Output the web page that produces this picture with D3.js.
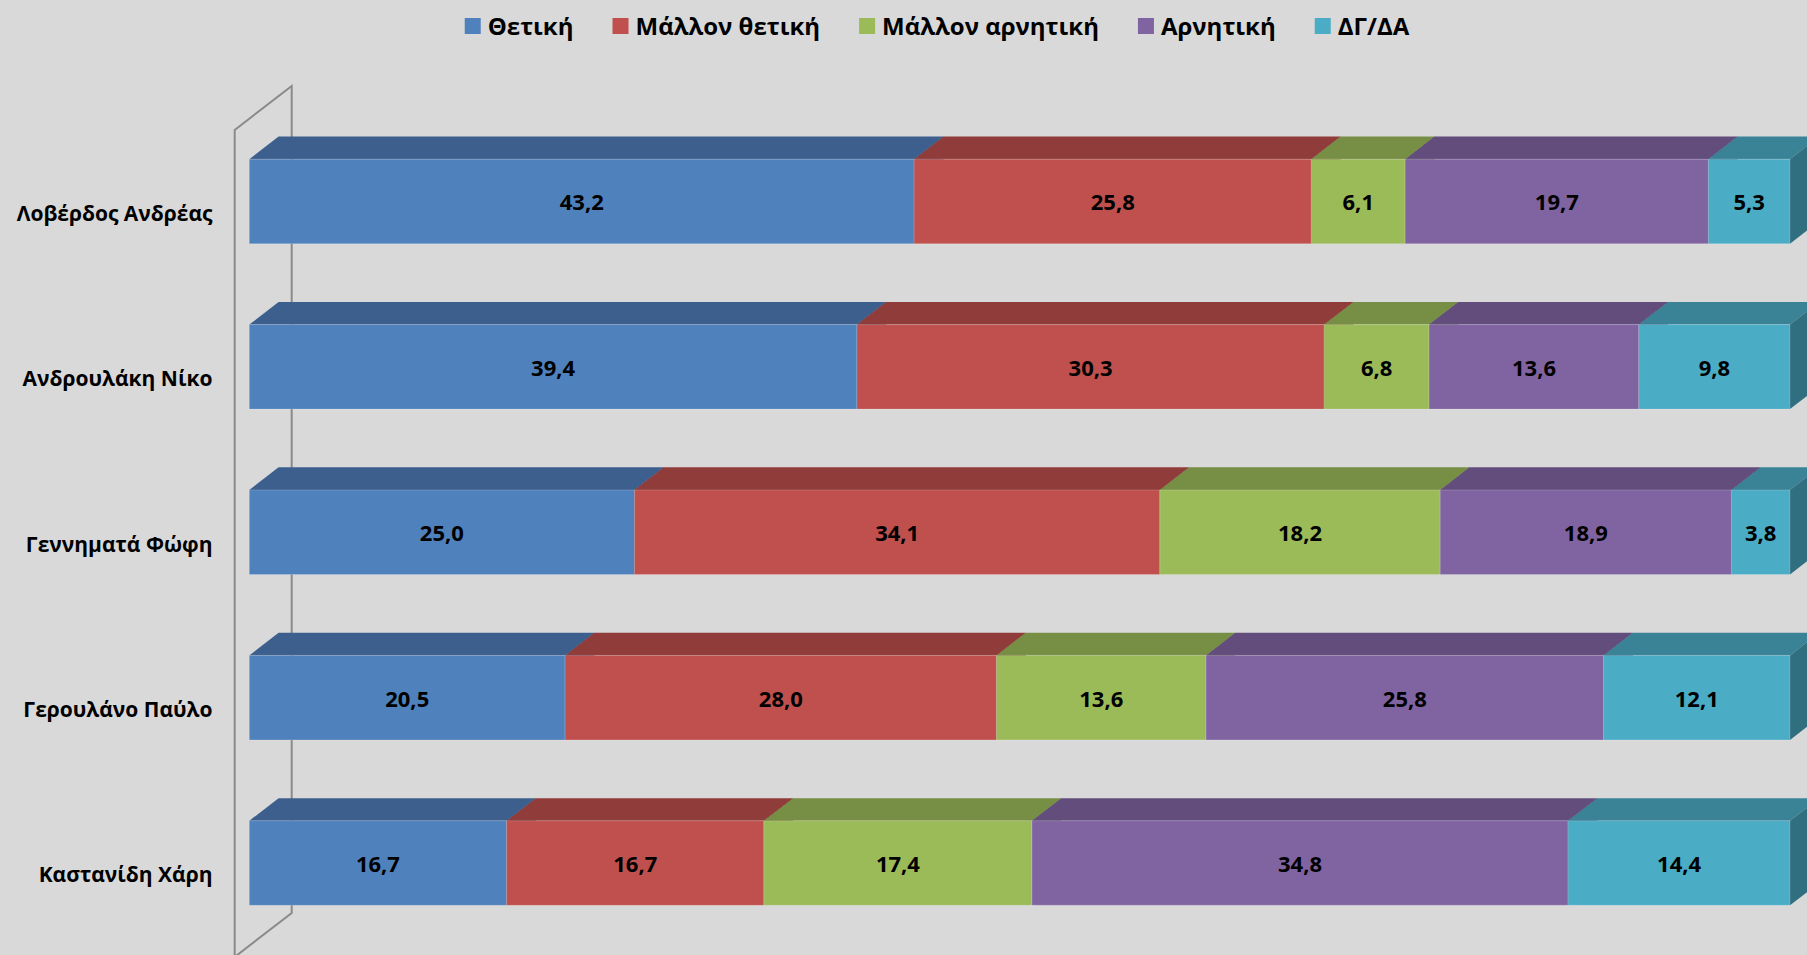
<!DOCTYPE html>
<html><head><meta charset="utf-8">
<script src="https://cdn.jsdelivr.net/npm/d3@7"></script>
<style>
html,body{margin:0;padding:0;background:#d9d9d9;overflow:hidden;}
text{font-family:"Open Sans","Noto Sans",sans-serif;font-weight:bold;fill:#000;}
</style></head>
<body><svg id="c" width="1807" height="955"></svg>
<script>
const categories = ["Λοβέρδος Ανδρέας","Ανδρουλάκη Νίκο","Γεννηματά Φώφη","Γερουλάνο Παύλο","Καστανίδη Χάρη"];
const seriesNames = ["Θετική","Μάλλον θετική","Μάλλον αρνητική","Αρνητική","ΔΓ/ΔΑ"];
const thetiki        = [43.2,39.4,25.0,20.5,16.7];
const mallonThetiki  = [25.8,30.3,34.1,28.0,16.7];
const mallonArnitiki = [6.1,6.8,18.2,13.6,17.4];
const arnitiki       = [19.7,13.6,18.9,25.8,34.8];
const dgda           = [5.3,9.8,3.8,12.1,14.4];

const frontColors = ["#4f81bd","#c0504d","#9bbb59","#8064a2","#4bacc6"];
const topColors   = ["#3d5f8d","#903c3a","#778f45","#624d7d","#3a8397"];
const sideColors  = ["#33527a","#7c3331","#667b3b","#54426b","#306f80"];

const seriesArrays = [thetiki,mallonThetiki,mallonArnitiki,arnitiki,dgda];
const rows = categories.map((c,i)=>{
  const r={cat:c};
  seriesNames.forEach((s,k)=>r[s]=seriesArrays[k][i]);
  return r;
});
const stacked = d3.stack().keys(seriesNames).offset(d3.stackOffsetExpand)(rows);

const svg = d3.select("#c");
const W=1807,H=955;
const plot = {left:234.7,right:1775.4,top:130,bottom:957};
const D = {dx:57,dy:-44};
const f1=0.256, f2=0.77;
const P=(x,y,f)=>[x+f*D.dx, y+f*D.dy];

const x = d3.scaleLinear([0,1],[plot.left,plot.right]);
const y = d3.scaleBand(categories,[plot.top,plot.bottom]).paddingInner(0.489).paddingOuter(0.2445);

// wall
const wall=[P(plot.left,plot.top,0),P(plot.left,plot.top,1),P(plot.left,plot.bottom,1),P(plot.left,plot.bottom,0)];
svg.append("polygon").attr("points",wall.map(p=>p.join(",")).join(" "))
  .attr("fill","none").attr("stroke","#8a8a8a").attr("stroke-width",2);

// bars
const fmt=v=>d3.format(".1f")(v).replace(".",",");
const gBars=svg.append("g");
categories.forEach((cat,i)=>{
  const yt=y(cat), yb=y(cat)+y.bandwidth();
  stacked.forEach((ser,k)=>{
    const d=ser[i];
    const x0=x(d[0]), x1=x(d[1]);
    const poly=(pts,fill)=>gBars.append("polygon").attr("points",pts.map(p=>p.join(",")).join(" ")).attr("fill",fill);
    poly([P(x0,yt,f1),P(x1,yt,f1),P(x1,yt,f2),P(x0,yt,f2)],topColors[k]);
    poly([P(x1,yt,f1),P(x1,yt,f2),P(x1,yb,f2),P(x1,yb,f1)],sideColors[k]);
    poly([P(x0,yt,f1),P(x1,yt,f1),P(x1,yb,f1),P(x0,yb,f1)],frontColors[k])
      .attr("stroke","rgba(255,255,255,0.18)").attr("stroke-width",1);
  });
  stacked.forEach((ser,k)=>{
    const d=ser[i];
    const c=P((x(d[0])+x(d[1]))/2,(yt+yb)/2,f1);
    gBars.append("text").attr("x",c[0]).attr("y",c[1]).attr("text-anchor","middle")
      .attr("dominant-baseline","central").attr("font-size",22).text(fmt(seriesArrays[k][i]));
  });
  svg.append("text").attr("x",212.5).attr("y",y(cat)+y.bandwidth()/2).attr("text-anchor","end")
    .attr("dominant-baseline","central").attr("font-size",21).text(cat);
});

// legend
const lg=svg.append("g");
let cx=0;
seriesNames.forEach((s,k)=>{
  const g=lg.append("g").attr("transform",`translate(${cx},0)`);
  g.append("rect").attr("x",0).attr("y",18).attr("width",16).attr("height",16).attr("fill",frontColors[k]);
  const t=g.append("text").attr("x",23).attr("y",34.5).attr("font-size",24).text(s);
  const w=t.node().getComputedTextLength();
  cx+=23+w+39;
});
const total=cx-39;
lg.attr("transform",`translate(${937-total/2},0)`);
</script></body></html>
